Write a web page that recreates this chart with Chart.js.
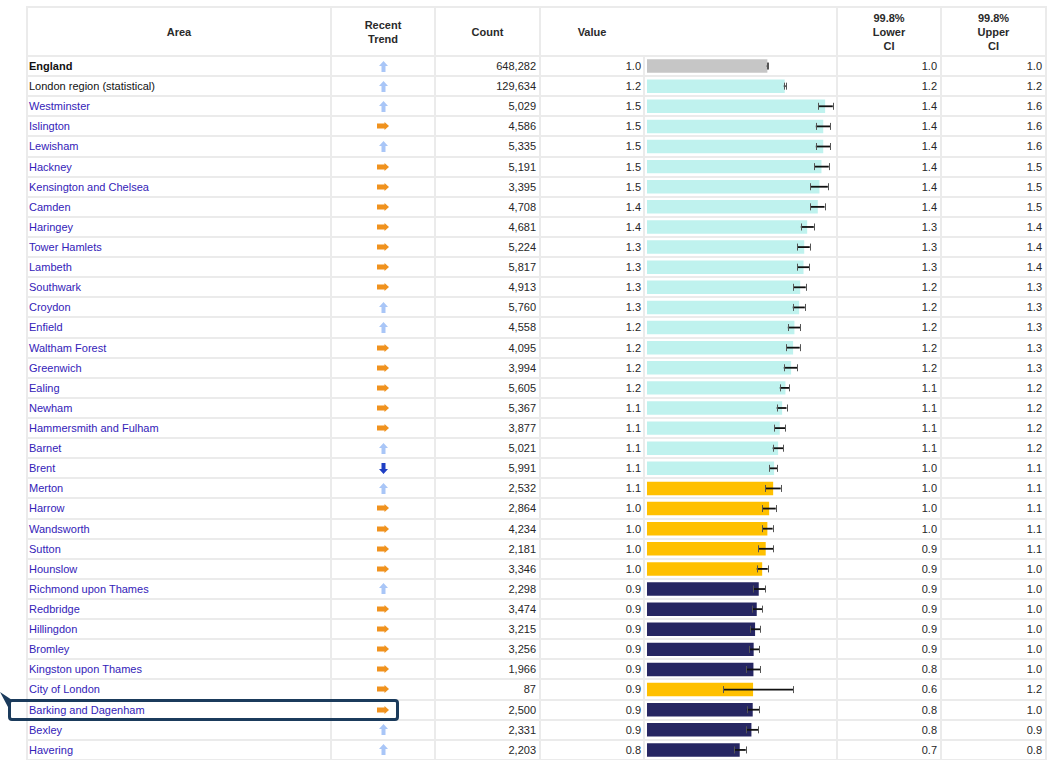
<!DOCTYPE html>
<html><head><meta charset="utf-8">
<script src="https://cdn.jsdelivr.net/npm/chart.js@4.4.0/dist/chart.umd.min.js"></script>
<style>
html,body{margin:0;padding:0;background:#fff;width:1055px;height:760px;overflow:hidden;font-family:Arial,"Liberation Sans",sans-serif;font-size:11px;color:#222}
#grid{position:absolute;left:26px;top:6px;padding:2px;background:#ebebeb;display:grid;grid-template-columns:302px 102px 103px 102px 191px 102px 103px;grid-template-rows:47px repeat(35,18.114px);gap:2px}
.c{background:#fff;display:flex;align-items:center;overflow:hidden;white-space:nowrap}
.h{font-weight:bold;justify-content:center;text-align:center;line-height:14px;color:#2a2a2a}
.r{justify-content:flex-end;padding-right:3px;color:#262626}
.a{padding-left:1px;color:#3322b8}
.m{justify-content:center}
#chartBox{position:absolute;left:647px;top:56px;width:189px;height:704px;z-index:2}
#hl{position:absolute;left:8px;top:699px;width:391px;height:22px;box-sizing:border-box;border:3px solid #1b3b5c;border-radius:4px;z-index:3}
#ptr{position:absolute;left:0;top:690px;z-index:3}
</style></head>
<body>
<div id="grid"></div>
<div id="chartBox"><canvas id="cv"></canvas></div>
<div id="hl"></div>
<svg id="ptr" width="14" height="20" viewBox="0 0 14 20"><polygon points="0,2 12,10 8,17" fill="#1b3b5c"/></svg>
<script>
const areas = ["England","London region (statistical)","Westminster","Islington","Lewisham","Hackney","Kensington and Chelsea","Camden","Haringey","Tower Hamlets","Lambeth","Southwark","Croydon","Enfield","Waltham Forest","Greenwich","Ealing","Newham","Hammersmith and Fulham","Barnet","Brent","Merton","Harrow","Wandsworth","Sutton","Hounslow","Richmond upon Thames","Redbridge","Hillingdon","Bromley","Kingston upon Thames","City of London","Barking and Dagenham","Bexley","Havering"];
const trends = ["up","up","up","right","up","right","right","right","right","right","right","right","up","up","right","right","right","right","right","up","down","up","right","right","right","right","up","right","right","right","right","right","right","up","up"];
const counts = [648282,129634,5029,4586,5335,5191,3395,4708,4681,5224,5817,4913,5760,4558,4095,3994,5605,5367,3877,5021,5991,2532,2864,4234,2181,3346,2298,3474,3215,3256,1966,87,2500,2331,2203];
const values = [1.019,1.166,1.508,1.492,1.492,1.477,1.460,1.446,1.356,1.331,1.325,1.297,1.288,1.248,1.237,1.220,1.172,1.144,1.124,1.110,1.076,1.068,1.034,1.019,1.005,0.975,0.946,0.929,0.915,0.903,0.901,0.898,0.895,0.884,0.785];
const lowerCI = [1.014,1.158,1.448,1.429,1.429,1.415,1.384,1.384,1.302,1.274,1.274,1.237,1.234,1.192,1.178,1.158,1.124,1.098,1.076,1.064,1.036,1.003,0.975,0.975,0.941,0.929,0.901,0.890,0.875,0.867,0.842,0.647,0.844,0.842,0.740];
const upperCI = [1.022,1.174,1.573,1.553,1.552,1.539,1.531,1.503,1.412,1.378,1.375,1.344,1.336,1.299,1.293,1.274,1.206,1.181,1.172,1.153,1.104,1.132,1.090,1.064,1.070,1.022,1.003,0.977,0.960,0.952,0.960,1.240,0.952,0.943,0.836];
const compare = ["benchmark","higher","higher","higher","higher","higher","higher","higher","higher","higher","higher","higher","higher","higher","higher","higher","higher","higher","higher","higher","higher","similar","similar","similar","similar","similar","lower","lower","lower","lower","lower","similar","lower","lower","lower"];
const headers = ["Area","Recent<br>Trend","Count","Value","99.8%<br>Lower<br>CI","99.8%<br>Upper<br>CI"];

const colours = {benchmark:"#c6c6c6",higher:"#bff2ee",similar:"#ffc000",lower:"#262662"};
const arrowSvg = {
  up:'<svg width="9" height="11" viewBox="0 0 9 11"><path d="M4.5 0 L9 5 L6.5 5 L6.5 11 L2.5 11 L2.5 5 L0 5Z" fill="#a9c6f7"/></svg>',
  down:'<svg width="9" height="11" viewBox="0 0 9 11"><path d="M4.5 11 L9 6 L6.5 6 L6.5 0 L2.5 0 L2.5 6 L0 6Z" fill="#1f3fc4"/></svg>',
  right:'<svg width="12" height="8" viewBox="0 0 12 8"><path d="M12 4 L7.5 0 L7.5 1.6 L0 1.6 L0 6.4 L7.5 6.4 L7.5 8Z" fill="#f0921e"/></svg>'
};

const g = document.getElementById('grid');
function cell(cls, html, extra){const d=document.createElement('div');d.className='c '+cls;d.innerHTML=html;if(extra)Object.assign(d.style,extra);g.appendChild(d);return d;}
cell('h',headers[0]);cell('h',headers[1]);cell('h',headers[2]);
cell('h','<div style="width:102px;text-align:center">'+headers[3]+'</div>',{gridColumn:'span 2',justifyContent:'flex-start'});
cell('h',headers[4]);cell('h',headers[5]);
areas.forEach((a,i)=>{
  const st = i===0?{fontWeight:'bold',color:'#111'}:(i===1?{color:'#111'}:null);
  cell('a',a,st);
  cell('m',arrowSvg[trends[i]]);
  cell('r',counts[i].toLocaleString('en-GB'));
  cell('r',values[i].toFixed(1),{paddingRight:'2px'});
  cell('','');
  cell('r',lowerCI[i].toFixed(1));
  cell('r',upperCI[i].toFixed(1));
});

const errorBars = {
  id:'errorBars',
  afterDatasetsDraw(chart){
    const ctx=chart.ctx, xs=chart.scales.x, ys=chart.scales.y;
    ctx.save();
    values.forEach((v,i)=>{
      const y=ys.getPixelForValue(i), x1=xs.getPixelForValue(lowerCI[i]), x2=xs.getPixelForValue(upperCI[i]);
      ctx.strokeStyle='#111';ctx.lineWidth=1.8;
      ctx.beginPath();ctx.moveTo(x1,y);ctx.lineTo(x2,y);ctx.stroke();
      ctx.strokeStyle='#555';ctx.lineWidth=1;
      [x1,x2].forEach(x=>{ctx.beginPath();ctx.moveTo(Math.round(x)+0.5,y-3.5);ctx.lineTo(Math.round(x)+0.5,y+3.5);ctx.stroke();});
    });
    ctx.restore();
  }
};

new Chart(document.getElementById('cv'),{
  type:'bar',
  data:{labels:areas,datasets:[{data:values,backgroundColor:compare.map(c=>colours[c]),borderWidth:0,barPercentage:0.67,categoryPercentage:1.0}]},
  options:{
    indexAxis:'y',responsive:true,maintainAspectRatio:false,animation:false,
    layout:{padding:0},
    plugins:{legend:{display:false},tooltip:{enabled:false}},
    scales:{
      x:{type:'linear',min:0,max:1.6,display:false},
      y:{type:'category',display:false,offset:true}
    }
  },
  plugins:[errorBars]
});
</script>
</body></html>
